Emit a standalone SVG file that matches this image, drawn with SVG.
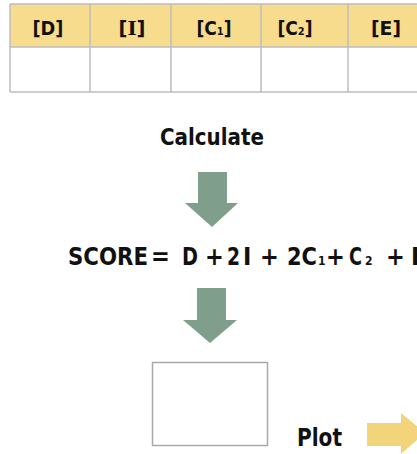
<svg xmlns="http://www.w3.org/2000/svg" width="417" height="454" viewBox="0 0 417 454">
<style>
.t{font-family:"DejaVu Sans Condensed","DejaVu Sans","Liberation Sans",sans-serif;font-weight:bold;font-stretch:condensed;fill:#111;}
.h{font-size:19px;text-anchor:middle;}
.f{font-size:25px;}
.s{font-size:11px;}
.grid{stroke:#bdbdbd;stroke-width:1.5;fill:none;}
.ga{fill:#7f9f8c;}
.ya{fill:#f2d57a;}
</style>
<rect width="417" height="454" fill="#ffffff"/>
<g id="table">
<rect x="10" y="4" width="420" height="43" fill="#f7dc8e"/>
<rect x="10" y="47" width="420" height="45" fill="#ffffff"/>
<path class="grid" d="M10,4 H430 M10,47 H430 M10,92 H430 M10,4 V92 M90,4 V92 M171,4 V92 M261,4 V92 M348,4 V92"/>
<text class="t h" x="48" y="35" textLength="31" lengthAdjust="spacingAndGlyphs">[D]</text>
<text class="t h" x="132" y="35" textLength="27" lengthAdjust="spacingAndGlyphs">[<tspan font-family="DejaVu Serif Condensed,DejaVu Serif,serif">I</tspan>]</text>
<text class="t h" x="214" y="35">[C<tspan class="s">1</tspan>]</text>
<text class="t h" x="295" y="35">[C<tspan class="s">2</tspan>]</text>
<text class="t h" x="386" y="35" textLength="30" lengthAdjust="spacingAndGlyphs">[E]</text>
</g>
<g id="calculate">
<text class="t" x="160" y="145" font-size="23" textLength="104" lengthAdjust="spacingAndGlyphs">Calculate</text>
</g>
<g id="formula">
<text class="t f" x="68" y="265" textLength="80" lengthAdjust="spacingAndGlyphs">SCORE</text>
<text class="t f" x="151" y="265">=</text>
<text class="t f" x="182" y="265" textLength="16" lengthAdjust="spacingAndGlyphs">D</text>
<text class="t f" x="205" y="265">+</text>
<text class="t f" x="227" y="265" textLength="13" lengthAdjust="spacingAndGlyphs">2</text>
<text class="t f" x="243" y="265" font-family="DejaVu Serif Condensed,DejaVu Serif,serif">I</text>
<text class="t f" x="260" y="265">+</text>
<text class="t f" x="287" y="265" textLength="30" lengthAdjust="spacingAndGlyphs">2C</text>
<text class="t" x="318" y="265" font-size="12">1</text>
<text class="t f" x="326" y="265">+</text>
<text class="t f" x="349" y="265" textLength="13" lengthAdjust="spacingAndGlyphs">C</text>
<text class="t" x="365" y="265" font-size="12">2</text>
<text class="t f" x="386" y="265">+</text>
<text class="t f" x="411" y="265">E</text>
</g>
<g id="result">
<rect x="152.5" y="362.5" width="115" height="83" fill="#ffffff" stroke="#a8a8a8" stroke-width="1.5"/>
</g>
<g id="plot">
<text class="t" x="297" y="446" font-size="25" textLength="45" lengthAdjust="spacingAndGlyphs">Plot</text>
</g>
<g id="connectors">
<polygon class="ga" points="198,172 227,172 227,203 238,203 212,227 185,203 198,203"/>
<polygon class="ga" points="197,288 226,288 226,320 237,320 210,343 183,320 197,320"/>
<polygon class="ya" points="367,423 401,423 401,413 425,433 401,454 401,446 367,446"/>
</g>
</svg>
